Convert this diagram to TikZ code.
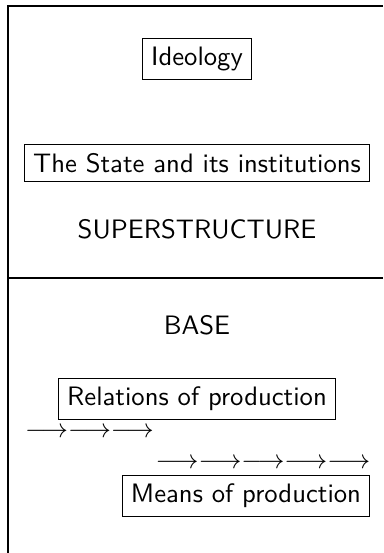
\documentclass[tikz,border=0pt]{standalone}
\usepackage{tikz}
\usetikzlibrary{positioning}
\renewcommand{\familydefault}{\sfdefault}
\tikzset{
  levelbox/.style={draw, inner sep=3.3pt, font=\sffamily},
  levellabel/.style={inner sep=0pt, font=\sffamily},
  arrowrow/.style={inner sep=0pt}
}

\begin{document}
\begin{tikzpicture}[x=0.375pt,y=-0.375pt]
  \useasboundingbox (0,0) rectangle (383,553);
  % frame and the dividing rule
  \draw (8,553) -- (8,6) -- (383,6);
  \draw (8,278) -- (383,278);
  % superstructure
  \node[levelbox] (ideology) at (197,59) {Ideology};
  \node[levelbox] (state) at (197,163) {The State and its institutions};
  \node[levellabel] (superlabel) at (197,229) {SUPERSTRUCTURE};
  % base
  \node[levellabel] (baselabel) at (197,325) {BASE};
  \node[levelbox] (relations) at (197,399) {Relations of production};
  \node[arrowrow] (rowA) at (89.5,433) {$\longrightarrow\longrightarrow\longrightarrow$};
  \node[arrowrow] (rowB) at (263,464) {$\longrightarrow\longrightarrow\longrightarrow\longrightarrow\longrightarrow$};
  \node[levelbox] (means) at (246,496) {Means of production};
\end{tikzpicture}
\end{document}
